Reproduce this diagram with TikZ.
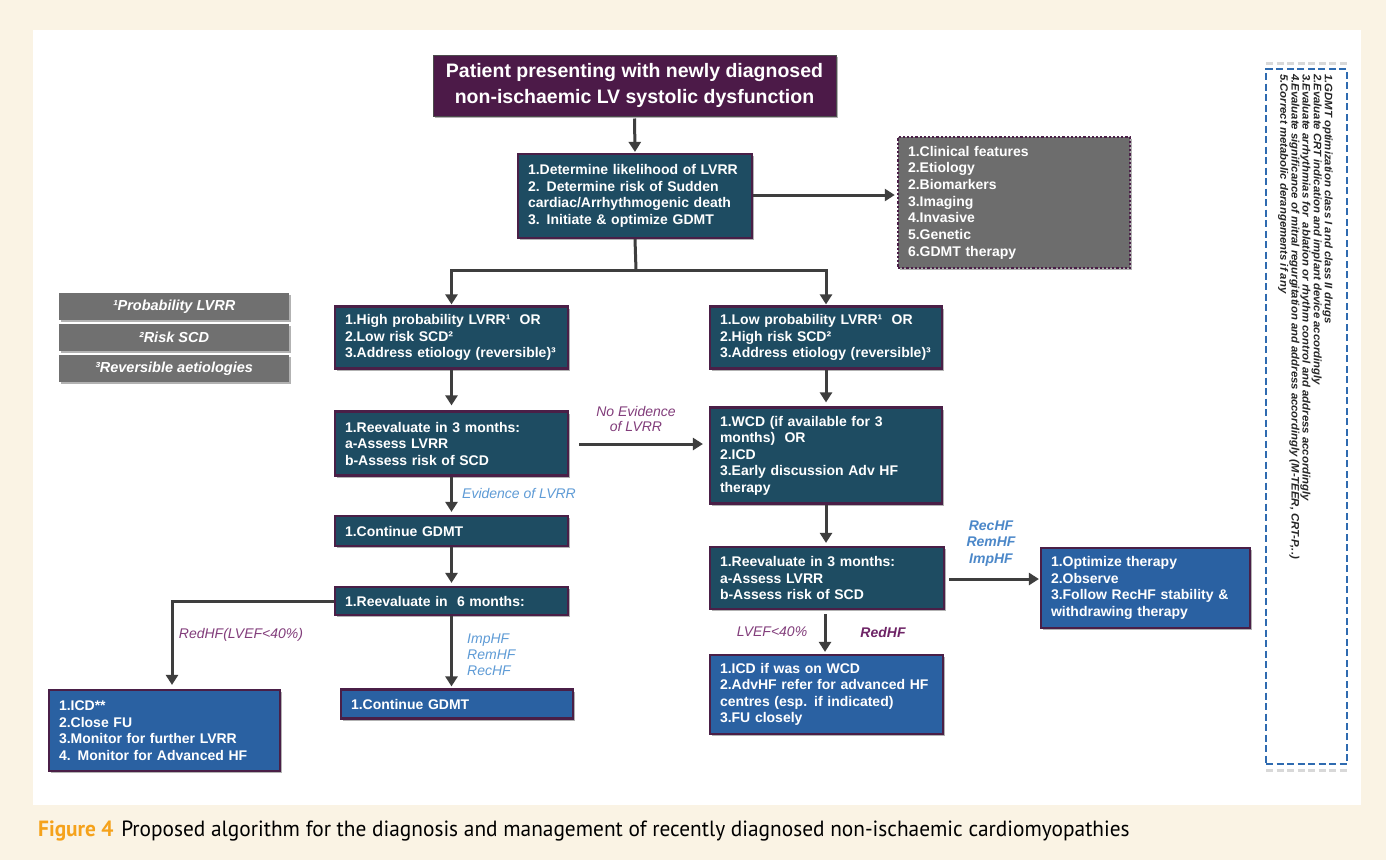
\documentclass[tikz,border=0pt]{standalone}
\usepackage{fontspec}
\usepackage{graphicx}
\setmainfont{Liberation Sans}
\newfontfamily\capfont{PT Sans}
\usetikzlibrary{arrows.meta,shadows}
\definecolor{cream}{HTML}{FAF3E4}
\definecolor{tpurple}{HTML}{4C1A48}
\definecolor{bpurple}{HTML}{4A1F47}
\definecolor{boxteal}{HTML}{1E4C62}
\definecolor{boxblue}{HTML}{2A61A2}
\definecolor{graybox}{HTML}{6D6D6D}
\definecolor{leggray}{HTML}{707070}
\definecolor{arrowgray}{HTML}{3E3E3E}
\definecolor{lblpurple}{HTML}{823D7B}
\definecolor{lblblue}{HTML}{5E9BD6}
\definecolor{lblbluetwo}{HTML}{4C88C9}
\definecolor{redhf}{HTML}{6E2466}
\definecolor{dashblue}{HTML}{2F6BB0}
\definecolor{figorange}{HTML}{F5A21B}
\begin{document}
\begin{tikzpicture}[x=1pt,y=-1pt,
  shad/.style={drop shadow={shadow xshift=2pt,shadow yshift=-2pt,opacity=0.3,fill=black}},
  box/.style={shad,draw=bpurple,line width=2.2pt,text=white,
    font=\bfseries\fontsize{14}{16.5}\selectfont,align=left,
    inner xsep=10pt,inner ysep=0pt,anchor=center},
  tealbox/.style={box,fill=boxteal},
  bluebox/.style={box,fill=boxblue},
  legbox/.style={shad,fill=leggray,text=white,font=\bfseries\itshape\fontsize{14.5}{16}\selectfont,
    minimum width=230pt,minimum height=27pt,inner sep=0pt},
  ln/.style={draw=arrowgray,line width=3pt},
  arr/.style={ln,-{Triangle[width=12pt,length=10pt]}},
  lbl/.style={font=\itshape\fontsize{14}{16}\selectfont,inner sep=0pt},
]
\useasboundingbox (0,0) rectangle (1386,860);
\fill[cream] (0,0) rectangle (1386,860);
\fill[white] (33,30) rectangle (1361,805);

% nodes
\node[shad,fill=tpurple,draw=black!70,line width=1pt,text=white,align=center,
  font=\bfseries\fontsize{19.5}{26}\selectfont,minimum width=403pt,minimum height=61pt,inner sep=0pt]
  (title) at (634.5,85.5) {Patient presenting with newly diagnosed\\non-ischaemic LV systolic dysfunction};

\node[tealbox,minimum width=234pt,minimum height=84pt,text width=214pt] (det) at (635,196)
  {1.Determine likelihood of LVRR\\2. Determine risk of Sudden\\cardiac/Arrhythmogenic death\\3. Initiate \& optimize GDMT};

\node[box,fill=graybox,dotted,line width=2.5pt,minimum width=232pt,minimum height=131pt,text width=212pt,
  font=\bfseries\fontsize{14}{16.7}\selectfont] (gray) at (1014,202.5)
  {1.Clinical features\\2.Etiology\\2.Biomarkers\\3.Imaging\\4.Invasive\\5.Genetic\\6.GDMT therapy};

\node[legbox] (leg1) at (174,306.5) {¹Probability LVRR};
\node[legbox] (leg2) at (174,337.5) {²Risk SCD};
\node[legbox] (leg3) at (174,368.5) {³Reversible aetiologies};

\node[tealbox,minimum width=233pt,minimum height=62pt,text width=213pt] (hp) at (451.5,337.5)
  {1.High probability LVRR¹~ OR\\2.Low risk SCD²\\3.Address etiology (reversible)³};
\node[tealbox,minimum width=232pt,minimum height=62pt,text width=212pt] (lp) at (826,337.5)
  {1.Low probability LVRR¹~ OR\\2.High risk SCD²\\3.Address etiology (reversible)³};

\node[tealbox,minimum width=233pt,minimum height=64pt,text width=213pt] (re3L) at (451.5,443.5)
  {1.Reevaluate in 3 months:\\a-Assess LVRR\\b-Assess risk of SCD};
\node[tealbox,minimum width=232pt,minimum height=96pt,text width=212pt] (wcd) at (826,455.5)
  {1.WCD (if available for 3\\months)~ OR\\2.ICD\\3.Early discussion Adv HF\\therapy};

\node[tealbox,minimum width=233pt,minimum height=30pt,text width=213pt] (cg1) at (451.5,531)
  {1.Continue GDMT};
\node[tealbox,minimum width=233pt,minimum height=28pt,text width=213pt] (re6) at (451.5,601)
  {1.Reevaluate in~ 6 months:};

\node[bluebox,minimum width=231pt,minimum height=81pt,text width=211pt] (icd) at (164.5,730.5)
  {1.ICD**\\2.Close FU\\3.Monitor for further LVRR\\4. Monitor for Advanced HF};
\node[bluebox,minimum width=232pt,minimum height=29pt,text width=212pt] (cg2) at (457,704)
  {1.Continue GDMT};

\node[tealbox,minimum width=234pt,minimum height=62pt,text width=214pt] (re3R) at (827,578)
  {1.Reevaluate in 3 months:\\a-Assess LVRR\\b-Assess risk of SCD};
\node[bluebox,minimum width=209pt,minimum height=80pt,text width=189pt] (opt) at (1145.5,588)
  {1.Optimize therapy\\2.Observe\\3.Follow RecHF stability \&\\withdrawing therapy};
\node[bluebox,minimum width=233pt,minimum height=79pt,text width=213pt] (icd2) at (826.5,694.5)
  {1.ICD if was on WCD\\2.AdvHF refer for advanced HF\\centres (esp. if indicated)\\3.FU closely};

% side dashed box
\draw[black!25,line width=3pt,dash pattern=on 7pt off 3.5pt,opacity=0.6] (1266,63) -- (1347,63);
\draw[black!25,line width=3pt,dash pattern=on 7pt off 3.5pt,opacity=0.6] (1266,770) -- (1347,770);
\node[draw=dashblue,line width=2.5pt,dash pattern=on 7pt off 3.5pt,minimum width=81pt,minimum height=695pt,inner sep=0pt]
  (side) at (1306.5,416.5) {};
\node[rotate=-90,anchor=north west,inner sep=0pt,text=black!85] (sidetext) at (1333,74)
  {\scalebox{1.05}[1]{\bfseries\itshape\fontsize{10.8}{11}\selectfont
   \begin{tabular}{@{}l@{}}
   1.GDMT optimization class I and class II drugs\\
   2.Evaluate CRT indication and implant device accordingly\\
   3.Evaluate arrhythmias for~ ablation or rhythm control and address accordingly\\
   4.Evaluate significance of mitral regurgitation and address accordingly (M-TEER, CRT-P,..)\\
   5.Correct metabolic derangements if any
   \end{tabular}}};

% connectors
\coordinate (jn) at (636,270);
\draw[arr,shorten <=2pt,shorten >=1pt] (title.south) -- (det.north);
\draw[arr,shorten >=2pt] (det.east |- 0,195) -- (gray.west |- 0,195);
\draw[ln] (det.south) -- (jn);
\draw[arr,shorten >=1pt] (jn) -| (hp.north);
\draw[arr,shorten >=1pt] (jn) -| (lp.north);
\draw[arr,shorten >=5pt] (hp.south) -- (re3L.north);
\draw[arr,shorten >=4pt] (lp.south) -- (wcd.north);
\draw[arr,shorten <=10pt,shorten >=6pt] (re3L.east |- 0,444) -- (wcd.west |- 0,444);
\draw[arr,shorten >=3pt] (re3L.south) -- (cg1.north);
\draw[arr,shorten >=3pt] (cg1.south) -- (re6.north);
\draw[arr,shorten >=4pt] (re6.west) -| ([xshift=7.5pt]icd.north);
\draw[arr,shorten >=2pt] (re6.south) -- (re6.south |- cg2.north);
\draw[arr,shorten >=3pt] (wcd.south) -- (wcd.south |- re3R.north);
\draw[arr,shorten <=4pt,shorten >=1pt] (re3R.east |- 0,579) -- (opt.west |- 0,579);
\draw[arr,shorten <=4pt,shorten >=2pt] ([xshift=-2pt]re3R.south) -- ([xshift=-2pt]re3R.south |- icd2.north);

% labels
\node[lbl,text=lblpurple,align=center,font=\itshape\fontsize{14}{15}\selectfont] (l1) at (636,419) {No Evidence\\of LVRR};
\node[lbl,text=lblblue] (l2) at (519,493) {Evidence of LVRR};
\node[lbl,text=lblpurple] (l3) at (241,635) {RedHF(LVEF<40\%)};
\node[lbl,text=lblblue,align=left,anchor=west] (l4) at (467,655) {ImpHF\\RemHF\\RecHF};
\node[lbl,text=lblbluetwo,align=center,font=\bfseries\itshape\fontsize{14}{16.5}\selectfont] (l5) at (991,543.5) {RecHF\\RemHF\\ImpHF};
\node[lbl,text=lblpurple] (l6) at (772,632) {LVEF<40\%};
\node[lbl,text=redhf,font=\bfseries\itshape\fontsize{14}{16}\selectfont] (l7) at (883,632) {RedHF};

% caption
\node[anchor=west,inner sep=0pt] (cap) at (38,831)
  {\scalebox{0.97}[1]{\capfont\fontsize{22}{26}\selectfont{\color{figorange}\bfseries Figure 4}\hspace{8pt}Proposed algorithm for the diagnosis and management of recently diagnosed non-ischaemic cardiomyopathies}};
\end{tikzpicture}
\end{document}
